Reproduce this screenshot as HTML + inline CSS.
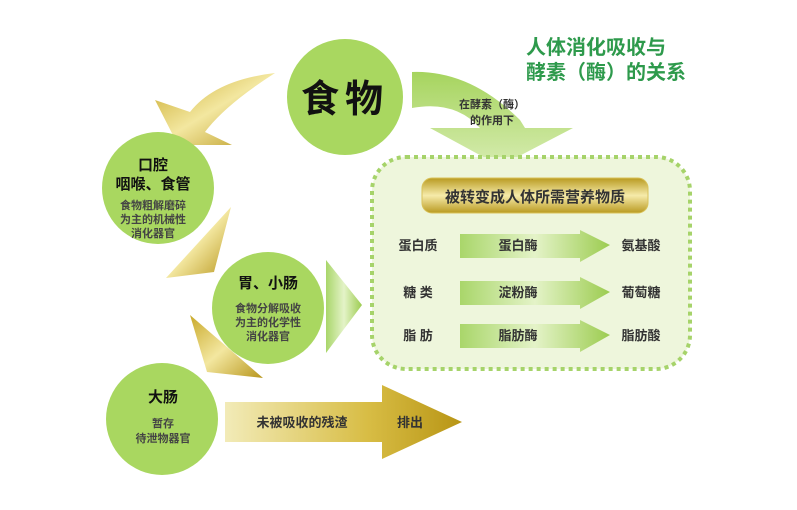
<!DOCTYPE html>
<html><head><meta charset="utf-8"><style>
html,body{margin:0;padding:0;background:#fff;}
svg{display:block;font-family:"Liberation Sans","Noto Sans CJK SC",sans-serif;}
</style></head><body>
<svg width="797" height="510" viewBox="0 0 797 510" xmlns="http://www.w3.org/2000/svg">
<defs>
<linearGradient id="gold" x1="0" y1="0" x2="1" y2="1">
<stop offset="0" stop-color="#c9a92a"/><stop offset="0.5" stop-color="#f3e7a0"/><stop offset="1" stop-color="#b8961c"/></linearGradient>
<linearGradient id="goldh" x1="0" y1="0" x2="1" y2="0">
<stop offset="0" stop-color="#f2ebb8"/><stop offset="0.6" stop-color="#d8bd45"/><stop offset="1" stop-color="#b89515"/></linearGradient>
<linearGradient id="goldbar" x1="0" y1="0" x2="0" y2="1">
<stop offset="0" stop-color="#b99a20"/><stop offset="0.5" stop-color="#f6ebaa"/><stop offset="1" stop-color="#b99a20"/></linearGradient>
<linearGradient id="grn" x1="0" y1="0" x2="1" y2="0">
<stop offset="0" stop-color="#a9d66a"/><stop offset="0.5" stop-color="#e4f3c8"/><stop offset="1" stop-color="#9ccc50"/></linearGradient>
<linearGradient id="grnv" x1="0" y1="0" x2="0" y2="1">
<stop offset="0" stop-color="#a6d45e"/><stop offset="1" stop-color="#d6ecb0"/></linearGradient>
</defs>

<!-- title -->
<text x="526" y="54" font-size="20" font-weight="bold" fill="#2e9a4c">人体消化吸收与</text>
<text x="526" y="79" font-size="20" font-weight="bold" fill="#2e9a4c">酵素（酶）的关系</text>

<!-- green curved arrow from food -->
<path d="M412,72 Q470,70 520,120 L525,128 L573,128 L500,166 L430,128 L480,128 Q455,100 412,108 Z" fill="url(#grnv)"/>
<text x="492" y="108" font-size="11" font-weight="bold" fill="#333" text-anchor="middle">在酵素（酶）</text>
<text x="492" y="124" font-size="11" font-weight="bold" fill="#333" text-anchor="middle">的作用下</text>

<!-- dotted box -->
<rect x="372" y="157" width="318" height="212" rx="34" fill="#eef6dc" stroke="#a6d36a" stroke-width="4" stroke-dasharray="4 4"/>
<rect x="422" y="178" width="226" height="35" rx="10" fill="url(#goldbar)" stroke="#d9c25a"/>
<text x="535" y="202" font-size="15" font-weight="bold" fill="#333" text-anchor="middle">被转变成人体所需营养物质</text>

<g font-size="13" font-weight="bold" fill="#333">
<text x="418" y="250" text-anchor="middle">蛋白质</text>
<text x="418" y="297" text-anchor="middle">糖 类</text>
<text x="418" y="340" text-anchor="middle">脂 肪</text>
<text x="641" y="250" text-anchor="middle">氨基酸</text>
<text x="641" y="297" text-anchor="middle">葡萄糖</text>
<text x="641" y="340" text-anchor="middle">脂肪酸</text>
</g>
<g fill="url(#grn)">
<path d="M460,234 L580,234 L580,230 L610,245 L580,262 L580,258 L460,258 Z"/>
<path d="M460,281 L580,281 L580,277 L610,292 L580,309 L580,305 L460,305 Z"/>
<path d="M460,324 L580,324 L580,320 L610,335 L580,352 L580,348 L460,348 Z"/>
</g>
<g font-size="13" font-weight="bold" fill="#333" text-anchor="middle">
<text x="518" y="250">蛋白酶</text>
<text x="518" y="297">淀粉酶</text>
<text x="518" y="340">脂肪酶</text>
</g>

<!-- gold curved arrow top-left -->
<path d="M275,73 Q215,80 190,112 L155,100 L178,145 L232,145 L205,132 Q225,105 275,73 Z" fill="url(#gold)"/>
<!-- shards -->
<path d="M231,207 L166,278 L214,272 Z" fill="url(#gold)"/>
<path d="M190,315 L263,378 L207,372 Z" fill="url(#gold)"/>
<!-- green triangle -->
<path d="M326,260 L362,305 L326,353 Z" fill="url(#grn)"/>

<!-- big gold arrow -->
<path d="M225,402 L382,402 L382,385 L462,422 L382,459 L382,442 L225,442 Z" fill="url(#goldh)"/>
<text x="302" y="427" font-size="13" font-weight="bold" fill="#333" text-anchor="middle">未被吸收的残渣</text>
<text x="410" y="427" font-size="13" font-weight="bold" fill="#333" text-anchor="middle">排出</text>

<!-- circles -->
<g fill="#a9d760">
<circle cx="345" cy="97" r="58"/>
<circle cx="158" cy="188" r="56"/>
<circle cx="268" cy="308" r="56"/>
<circle cx="162" cy="419" r="56"/>
</g>
<text x="345" y="112" font-size="38" font-weight="bold" fill="#111" text-anchor="middle" letter-spacing="6">食物</text>

<g text-anchor="middle" font-weight="bold">
<text x="153" y="170" font-size="15" fill="#111">口腔</text>
<text x="153" y="189" font-size="15" fill="#111">咽喉、食管</text>
<text x="153" y="209" font-size="11" fill="#444">食物粗解磨碎</text>
<text x="153" y="223" font-size="11" fill="#444">为主的机械性</text>
<text x="153" y="237" font-size="11" fill="#444">消化器官</text>

<text x="268" y="288" font-size="15" fill="#111">胃、小肠</text>
<text x="268" y="312" font-size="11" fill="#444">食物分解吸收</text>
<text x="268" y="326" font-size="11" fill="#444">为主的化学性</text>
<text x="268" y="340" font-size="11" fill="#444">消化器官</text>

<text x="163" y="402" font-size="15" fill="#111">大肠</text>
<text x="163" y="427" font-size="11" fill="#444">暂存</text>
<text x="163" y="442" font-size="11" fill="#444">待泄物器官</text>
</g>
</svg>
</body></html>
